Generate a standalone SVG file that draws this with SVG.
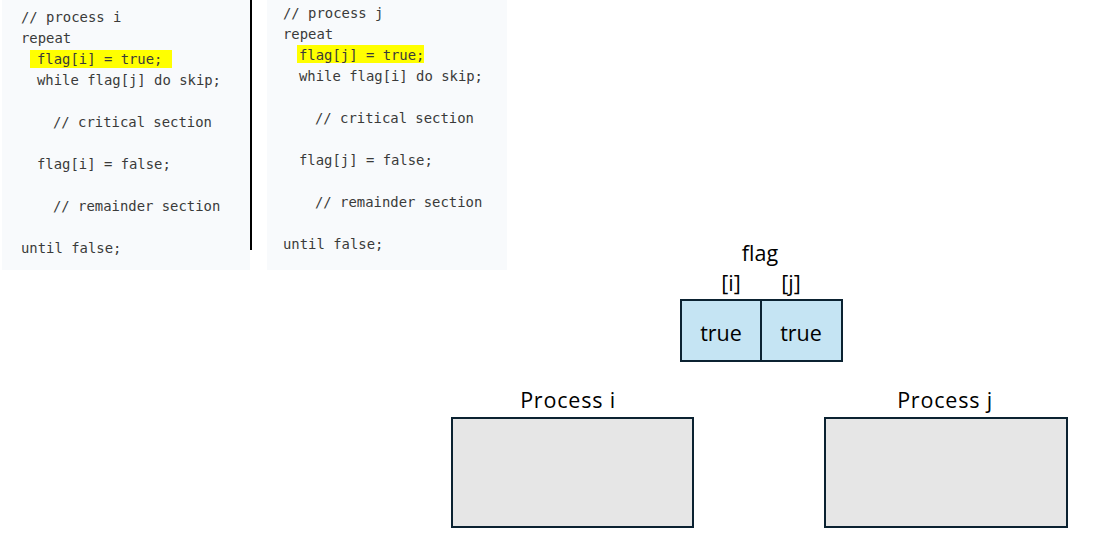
<svg xmlns="http://www.w3.org/2000/svg" width="1093" height="548" viewBox="0 0 1093 548">
<style>
.code{font-family:"DejaVu Sans Mono","Liberation Mono",monospace;font-size:13.9px;fill:#3a3a3a}
.lbl{font-family:"Open Sans","Noto Sans",sans-serif;font-size:21.5px;fill:#000;text-anchor:middle}
.plbl{letter-spacing:0.8px}
.cell{fill:#c5e4f3;stroke:#0b2231;stroke-width:2}
.proc{fill:#e6e6e6;stroke:#0b2231;stroke-width:2}
.hl{fill:#ffff00}
</style>
<rect width="1093" height="548" fill="#ffffff"/>
<g id="code-i">
<rect x="2" y="0" width="248" height="270" fill="#f8fafc"/>
<rect class="hl" x="30" y="50" width="142" height="18"/>
<text class="code" x="21" y="22">// process i</text>
<text class="code" x="21" y="43">repeat</text>
<text class="code" x="37" y="64">flag[i] = true;</text>
<text class="code" x="37" y="85">while flag[j] do skip;</text>
<text class="code" x="53" y="127">// critical section</text>
<text class="code" x="37" y="169">flag[i] = false;</text>
<text class="code" x="53" y="211">// remainder section</text>
<text class="code" x="21" y="253">until false;</text>
</g>
<line x1="251" y1="0" x2="251" y2="250" stroke="#000" stroke-width="2"/>
<g id="code-j">
<rect x="267" y="0" width="240" height="270" fill="#f8fafc"/>
<rect class="hl" x="297" y="45" width="127" height="18"/>
<text class="code" x="283" y="18">// process j</text>
<text class="code" x="283" y="39">repeat</text>
<text class="code" x="299" y="60">flag[j] = true;</text>
<text class="code" x="299" y="81">while flag[i] do skip;</text>
<text class="code" x="315" y="123">// critical section</text>
<text class="code" x="299" y="165">flag[j] = false;</text>
<text class="code" x="315" y="207">// remainder section</text>
<text class="code" x="283" y="249">until false;</text>
</g>
<g id="flag">
<text class="lbl" x="760" y="261">flag</text>
<text class="lbl" x="731" y="291">[i]</text>
<text class="lbl" x="791" y="291">[j]</text>
<rect class="cell" x="681" y="300" width="80" height="61"/>
<rect class="cell" x="761" y="300" width="81" height="61"/>
<text class="lbl" x="721" y="341">true</text>
<text class="lbl" x="801" y="341">true</text>
</g>
<g id="process-i">
<text class="lbl plbl" x="568" y="408">Process i</text>
<rect class="proc" x="452" y="418" width="241" height="109"/>
</g>
<g id="process-j">
<text class="lbl plbl" x="945" y="408">Process j</text>
<rect class="proc" x="825" y="418" width="242" height="109"/>
</g>
<g id="connectors"></g>
</svg>
